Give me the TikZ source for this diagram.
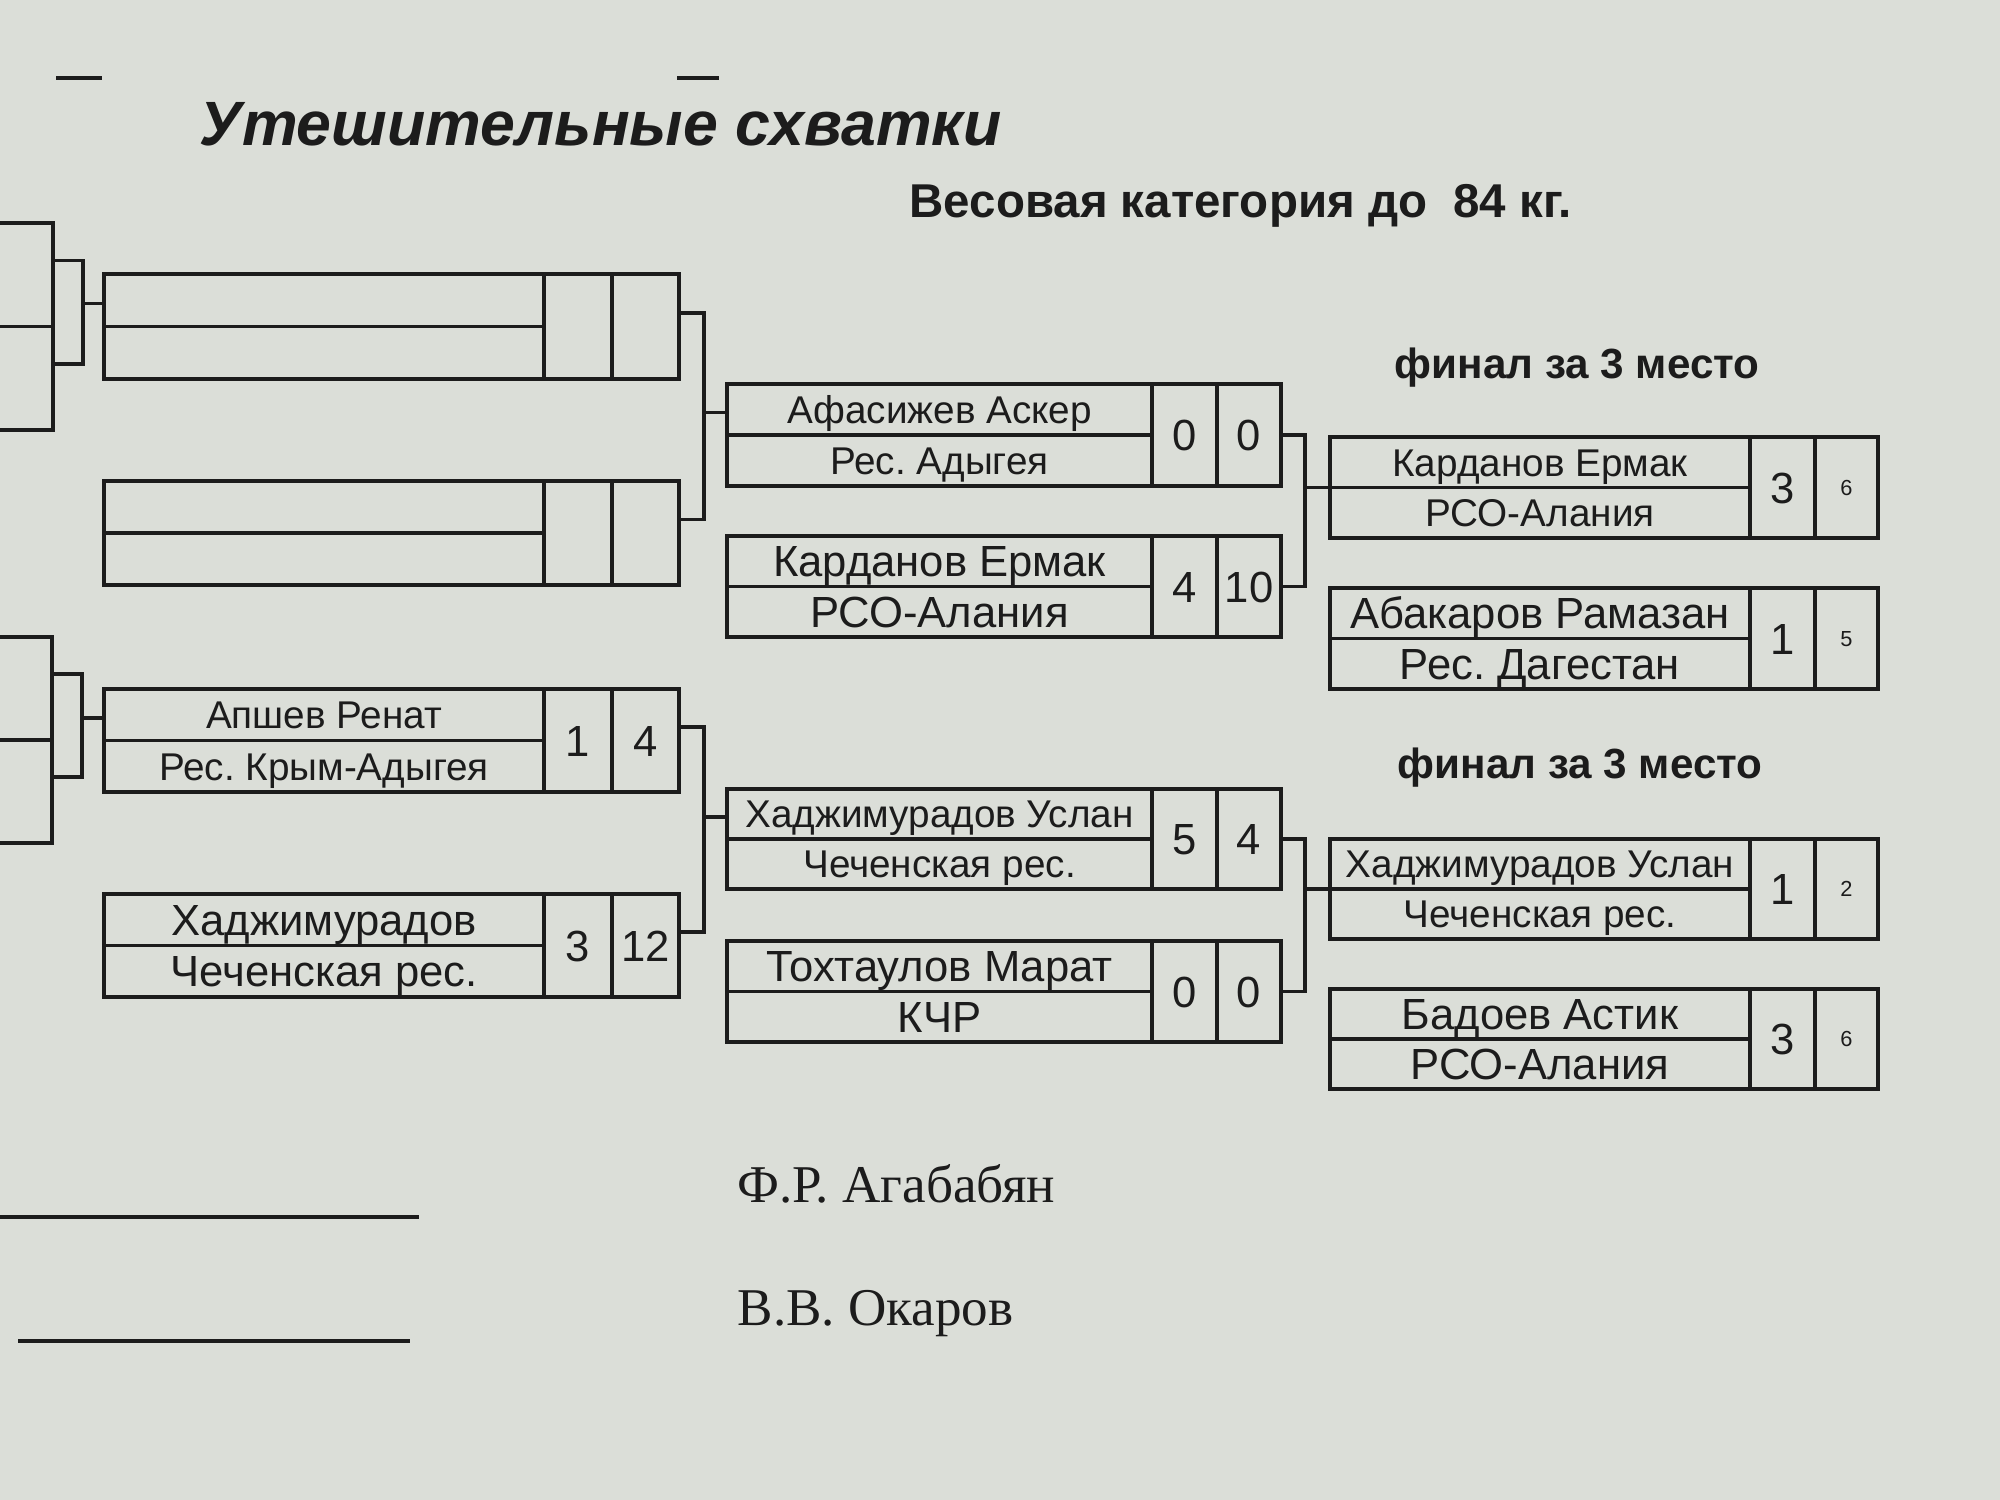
\documentclass[tikz,border=0pt]{standalone}
\usepackage{fontspec}
\setmainfont{Liberation Sans}
\newfontfamily\signfont{Liberation Serif}
\usetikzlibrary{calc}
\definecolor{paper}{RGB}{219,222,216}
\definecolor{ink}{RGB}{28,28,28}
\frenchspacing

\tikzset{
  boutbox/.style={draw=ink, line width=1.3pt, inner sep=0pt, outer sep=0pt},
  divider/.style={draw=ink, line width=1.1pt},
  link/.style={draw=ink, line width=1pt},
  wsmall/.style={inner sep=0pt, text=ink, font=\fontsize{11}{13}\selectfont, text height=7.9pt, text depth=0pt},
  wlarge/.style={inner sep=0pt, text=ink, font=\fontsize{12.4}{14}\selectfont, text height=8.9pt, text depth=0pt},
  scorecell/.style={wlarge},
  finalpts/.style={inner sep=0pt, text=ink, font=\fontsize{6.2}{7}\selectfont, text height=4.4pt, text depth=0pt},
  heading/.style={inner sep=0pt, text=ink, anchor=base west},
  signline/.style={draw=ink, line width=0.9pt}
}

% column: left edge, first score line, second score line, right edge, style of last cell
\newcommand{\setcol}[5]{\def\xl{#1}\def\xd{#2}\def\xe{#3}\def\xr{#4}\def\ptstyle{#5}}
% bout: node, top, bottom, text style, wrestler, team, score, points
\newcommand{\bout}[8]{%
  \node[boutbox, minimum width={(\xr-\xl)*0.01cm}, minimum height={(#3-#2)*0.01cm}]
    (#1) at ({(\xl+\xr)/2},{(#2+#3)/2}) {};
  \draw[divider] (#1.west) -- (\xd,{(#2+#3)/2});
  \draw[divider] (\xd,#2) -- (\xd,#3) (\xe,#2) -- (\xe,#3);
  \node[#4] (#1-w) at ({(\xl+\xd)/2},{(3*#2+#3)/4}) {#5};
  \node[#4] (#1-t) at ({(\xl+\xd)/2},{(#2+3*#3)/4}) {#6};
  \node[scorecell] (#1-s) at ({(\xd+\xe)/2},{(#2+#3)/2}) {#7};
  \node[\ptstyle] (#1-p) at ({(\xe+\xr)/2},{(#2+#3)/2}) {#8};
}

\begin{document}
\begin{tikzpicture}[x=0.01cm, y=-0.01cm]
  \fill[paper] (0,0) rectangle (2000,1500);
  \clip (0,0) rectangle (2000,1500);

  % headings
  \draw[signline] (56,78) -- (102,78);
  \draw[signline] (677,78) -- (719,78);
  \node[heading, font=\fontsize{17.8}{20}\selectfont\bfseries\itshape] (title) at (199,146) {Утешительные схватки};
  \node[heading, font=\fontsize{13.5}{15}\selectfont\bfseries] (weight) at (909,218) {Весовая категория до \ 84 кг.};
  \node[heading, font=\fontsize{12}{14}\selectfont\bfseries] (final1) at (1394,378) {финал за 3 место};
  \node[heading, font=\fontsize{12}{14}\selectfont\bfseries] (final2) at (1397,778) {финал за 3 место};

  % cut boxes of the main draw
  \node[boutbox, anchor=north east, minimum width=3cm, minimum height=2.07cm] (p1) at (53,223) {};
  \draw[divider] (p1.west) -- (p1.east);
  \node[boutbox, anchor=north east, minimum width=3cm, minimum height=2.06cm] (p2) at (52,637) {};
  \draw[divider] (p2.west) -- (p2.east);

  % first round
  \setcol{104}{544}{612}{679}{scorecell}
  \bout{b1}{274}{379}{wsmall}{}{}{}{}
  \bout{b2}{481}{585}{wsmall}{}{}{}{}
  \bout{b3}{689}{792}{wsmall}{Апшев Ренат}{Рес. Крым-Адыгея}{1}{4}
  \bout{b4}{894}{997}{wlarge}{Хаджимурадов}{Чеченская рес.}{3}{12}

  % second round
  \setcol{727}{1152}{1217}{1281}{scorecell}
  \bout{b5}{384}{486}{wsmall}{Афасижев Аскер}{Рес. Адыгея}{0}{0}
  \bout{b6}{536}{637}{wlarge}{Карданов Ермак}{РСО-Алания}{4}{10}
  \bout{b9}{789}{889}{wsmall}{Хаджимурадов Услан}{Чеченская рес.}{5}{4}
  \bout{b10}{941}{1042}{wlarge}{Тохтаулов Марат}{КЧР}{0}{0}

  % finals for third place
  \setcol{1330}{1750}{1815}{1878}{finalpts}
  \bout{b7}{437}{538}{wsmall}{Карданов Ермак}{РСО-Алания}{3}{6}
  \bout{b8}{588}{689}{wlarge}{Абакаров Рамазан}{Рес. Дагестан}{1}{5}
  \bout{b11}{839}{939}{wsmall}{Хаджимурадов Услан}{Чеченская рес.}{1}{2}
  \bout{b12}{989}{1089}{wlarge}{Бадоев Астик}{РСО-Алания}{3}{6}

  % brackets
  \foreach \src/\dst in {p1/b1, p2/b3} {
    \draw[link] ($(\src.north east)!0.18!(\src.south east)$) -- ++(30,0) |- ($(\dst.north west)!0.28!(\dst.south west)$);
    \draw[link] ($(\src.north east)!0.68!(\src.south east)$) -- ++(30,0) |- ($(\dst.north west)!0.28!(\dst.south west)$);
  }
  \foreach \src/\dst in {b1/b5, b2/b5, b3/b9, b4/b9}
    \draw[link] ($(\src.north east)!0.37!(\src.south east)$) -- ++(25,0) |- ($(\dst.north west)!0.28!(\dst.south west)$);
  \foreach \src/\dst in {b5/b7, b6/b7, b9/b11, b10/b11}
    \draw[link] (\src.east) -- ++(24,0) |- (\dst.west);

  % signatures
  \draw[signline] (0,1217) -- (419,1217);
  \draw[signline] (18,1341) -- (410,1341);
  \node[heading, font=\signfont\fontsize{15.1}{17}\selectfont] (sign1) at (737,1202) {Ф.Р. Агабабян};
  \node[heading, font=\signfont\fontsize{15.1}{17}\selectfont] (sign2) at (737,1325) {В.В. Окаров};
\end{tikzpicture}
\end{document}
